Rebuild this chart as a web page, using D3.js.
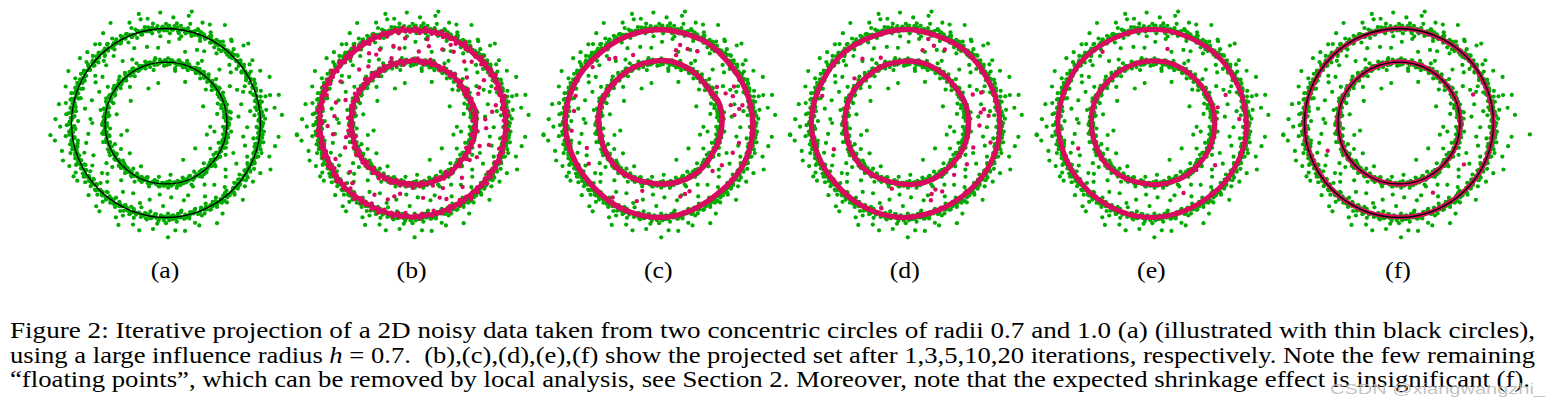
<!DOCTYPE html>
<html><head><meta charset="utf-8">
<script src="https://cdn.jsdelivr.net/npm/d3@7/dist/d3.min.js"></script>
<style>body{margin:0;background:#fff}svg{display:block}</style>
</head><body>
<svg id="chart" width="1562" height="411"></svg>
<script>
// ---------------- DATA ----------------
const panelLabels = ["(a)","(b)","(c)","(d)","(e)","(f)"];
const circleRadii = [0.645, 1.0];               // thin black reference circles (as drawn)
// original noisy green data (same in every panel)
// outer ring: radius = 1 + dev/100, points spread evenly in angle
const outerDev = [
 3,-2,5,0,-6,2,7,-1,-4,1,4,-3,9,0,-2,6,-5,2,-1,3,-8,4,1,-3,
 -2,5,0,-4,8,2,-6,1,3,-1,-9,4,2,-3,6,0,-2,11,-4,1,5,-1,-5,3,
 0,-3,4,7,-2,1,-6,3,-1,5,2,-4,0,8,-3,1,-7,4,-2,6,3,-1,-5,2,
 5,-2,1,-8,3,0,6,-4,2,-1,4,13,-3,0,2,-5,7,-2,1,3,-6,0,4,-1,
 -3,2,6,-1,-5,4,0,-2,9,1,-4,3,-7,2,5,-1,0,-3,6,2,-2,-10,3,1,
 4,-1,-3,7,0,2,-5,3,1,-2,5,-6,0,4,-1,8,-3,2,-4,1,6,-2,0,-7,
 2,5,-1,-4,3,0,7,-2,1,-5,4,2,-3,0,6,-1,-8,3,1,-2,5,0,-4,9,
 -1,3,-5,2,0,6,-3,1,4,-2,-6,3,0,5,-1,2,-4,7,-2,0,3,-5,1,4,
 -2,0,5,-3,8,1,-4,2,-1,6,0,-7,3,1,-2,4,-5,2,0,-3,7,1,-1,3,
 6,-4,0,2,-1,5,-3,1,-6,3,0,4,-2,10,-1,-4,2,5,-3,0,1,-5,3,-1,
 0,4,-2,-5,3,1,6,-1,-3,2,-8,5,0,-1,3,-4,2,7,-2,1,-5,4,0,-3,
 3,-1,5,-4,0,2,-7,1,4,-2,6,0,-3,2,-1,5,-6,3,0,-2,4,1,-4,2];
// second, denser core of the outer band (angles offset by half a step)
const outerDev2 = [
 1,-2,0,3,-1,2,-3,1,0,-1,2,-2,4,0,-3,1,2,-1,0,3,-2,1,-4,0,
 2,-1,0,-3,1,3,-2,0,1,-1,4,-2,0,2,-3,1,0,-1,2,-4,1,3,-1,0,
 -2,1,3,0,-1,2,-3,0,4,-2,1,0,-1,3,-2,1,0,-4,2,1,-1,0,3,-2,
 0,2,-1,-3,1,0,2,-2,3,-1,0,1,-3,2,4,-1,0,-2,1,3,-1,2,0,-3,
 3,-1,1,0,-2,4,-1,2,0,-3,1,2,-1,0,-4,2,1,-2,3,0,-1,1,2,-2,
 -1,0,2,-2,3,1,-3,0,1,2,-1,-4,3,0,1,-2,2,0,-1,4,-3,1,0,2,
 2,-3,0,1,-1,3,0,-2,2,1,-4,0,3,-1,1,2,-2,0,-1,3,1,-3,2,0,
 -2,1,4,-1,0,2,-3,1,0,-2,3,1,-1,0,2,-4,1,3,0,-1,-2,2,1,-3,
 1,0,-2,3,-1,1,4,-3,0,2,-1,0,1,-2,3,-1,2,0,-3,1,4,-2,0,-1,
 0,3,-1,-2,2,0,1,-4,3,-1,2,1,-2,0,-3,2,1,-1,4,0,-2,3,-1,1,
 -3,2,0,1,-1,3,-2,2,0,-4,1,3,-1,0,2,-2,1,-3,0,4,-1,2,0,-2,
 2,0,-3,1,3,-1,0,2,-2,1,-1,4,0,-3,2,1,-2,0,3,-1,1,-2,2,0];
// inner ring: radius = 0.645 + dev/100
const innerDev = [
 2,-1,4,-3,0,5,-2,1,-4,3,0,-6,2,1,-2,4,-1,0,3,-5,1,-2,6,0,
 -3,1,4,-1,-5,2,0,3,-2,7,-1,0,-4,2,5,-3,1,-1,3,-6,0,2,-2,4,
 1,-4,0,3,-1,5,-2,-7,2,0,4,-3,1,-1,6,-2,0,3,-5,2,-1,4,0,-3,
 5,0,-2,1,-4,3,-1,8,0,-3,2,-1,4,-5,1,0,-2,3,6,-1,-4,2,0,1,
 -2,3,0,-5,2,4,-1,-3,1,5,-2,0,-6,3,1,-1,4,-3,0,2,-1,9,-4,1,
 3,-2,0,4,-1,-5,2,1,-3,6,0,-2,3,-1,-4,2,5,0,-3,1,-7,3,-1,2,
 0,4,-3,1,-1,5,-2,3,0,-4,2,-1,6,-3,1,0,-5,2,4,-1,-2,3,0,-6,
 -1,2,5,-3,0,1,-4,3,-2,7,0,-1,4,-5,2,-2,1,3,-3,0,5,-1,-4,2];
const innerDev2 = [
 1,-1,2,0,-2,3,-1,0,1,-3,2,0,-1,2,1,-2,0,3,-1,1,-2,0,2,-1,
 0,2,-2,1,3,-1,0,-3,2,1,-1,0,2,-2,1,0,-1,3,-2,0,1,2,-1,-3,
 2,0,1,-1,-2,3,0,1,-3,2,0,-1,1,2,-2,0,3,-1,1,-2,0,2,-1,0,
 -1,3,0,-2,1,0,2,-1,-3,1,2,0,-2,3,1,-1,0,2,-2,1,-3,0,1,2,
 3,-2,0,1,-1,2,-3,0,1,2,-1,0,-2,1,3,-1,0,-2,2,1,-1,0,3,-3,
 0,1,-2,2,0,-1,3,1,-2,0,2,-1,1,-3,0,2,1,-1,0,-2,3,0,-1,1,
 -2,0,2,1,-1,3,-1,0,2,-2,0,1,-3,2,1,0,-1,2,-2,3,0,-1,1,0,
 1,-2,3,0,-1,1,2,-3,0,1,-1,2,0,-2,3,1,-1,0,2,-1,-2,1,0,2];
// scattered green points: [angle in degrees, radius]
const looseGreen = [
 [104,1.19],[93,1.17],[77,1.21],[78,1.16],[119,1.21],[125,1.16],[59,1.21],[45,1.16],[44,1.21],[29,1.14],
 [24,1.20],[14,1.23],[15,1.14],[4,1.23],[-5,1.39],[-7,1.20],[-12,1.18],[-24,1.21],[-34,1.11],[-89,1.21],
 [-104,1.17],[-115,1.19],[-127,1.17],[-147,1.12],[-150,1.13],[-165,1.14],[-174,1.23],[-171,1.19],[178,1.17],[170,1.15],
 [143,1.14],[138,1.12],[-45,1.15],[-58,1.13],[-72,1.14],[-80,1.16],[-97,1.13],[-118,1.13],[-137,1.12],[-160,1.16],
 [160,1.13],[132,1.12],[110,1.13],[86,1.12],[66,1.14],[52,1.12],[36,1.13],[8,1.16],[-18,1.15],[-28,1.13],
 [-63,1.19],[-85,1.14],[-108,1.13],[-130,1.15],[-156,1.12],[-178,1.12],[152,1.17],[100,1.12],[70,1.13],
 [81,0.90],[67,0.84],[62,0.86],[54,0.91],[25,0.83],[22,0.88],[5,0.77],[-10,0.83],[-16,0.87],[-24,0.78],
 [-38,0.80],[-42,0.85],[-67,0.73],[-73,0.80],[-77,0.84],[-102,0.83],[-108,0.89],[-115,0.82],[-135,0.88],[-139,0.82],
 [-150,0.90],[-156,0.84],[-166,0.87],[177,0.80],[163,0.82],[155,0.78],[144,0.83],[136,0.88],[125,0.80],[113,0.86],
 [104,0.83],[96,0.80],[88,0.86],[75,0.78],[45,0.80],[38,0.87],[14,0.82],[-3,0.86],[-52,0.83],[-58,0.77],
 [-86,0.79],[-92,0.88],[-122,0.86],[-128,0.77],[-146,0.76],[-172,0.83],[170,0.87],[150,0.86],[118,0.76],[30,0.78],
 [-30,0.86],[-95,0.76],[-180,0.78],[60,0.76],[8,0.90],[-62,0.88],[-142,0.86],[128,0.90],
 [117,0.41],[148,0.44],[-169,0.42],[-165,0.49],[-41,0.41],[-16,0.45],[24,0.43],[65,0.48],[101,0.43],[-5,0.47],
 [-65,0.43],[-120,0.53],[-150,0.55],[170,0.53],[40,0.55],[-30,0.54],[-85,0.55],[80,0.56],[-10,0.52],[-140,0.50],
 [135,0.54],[10,0.55]];

// (b) projected set after 1 iteration (red points)
// outer band: radius = 0.985 + dev/100 ; inner band: radius = 0.655 + dev/100
const redBOuterDev = [
 1,-2,0,3,-1,2,-3,0,1,-1,2,3,-2,0,1,-3,2,0,-1,1,3,-2,0,2,
 -1,0,2,-3,1,3,0,-2,1,-1,0,2,-2,1,3,-1,0,-3,2,1,-1,0,2,-2,
 3,0,-1,2,-2,1,0,3,-1,-3,1,2,0,-2,1,-1,3,0,-2,2,1,-1,0,-3,
 2,1,-2,0,3,-1,1,-3,0,2,-1,1,-2,3,0,-1,2,-3,1,0,-2,2,1,-1,
 0,-2,3,1,-1,0,2,-2,1,3,-1,0,-3,2,1,-1,0,2,-2,3,0,-1,1,-2,
 -3,1,0,2,-1,3,-2,0,1,-1,2,0,-2,1,3,-2,0,-1,2,1,-3,0,2,-1,
 1,3,-1,0,-2,2,1,-3,0,1,-1,3,0,-2,2,-1,1,0,-3,2,0,-1,3,1,
 -2,0,1,-1,3,0,-2,2,1,-3,0,1,2,-1,0,3,-2,1,-1,0,2,-3,1,0,
 2,-1,0,3,-2,1,0,-1,2,-3,1,0,-2,3,1,-1,0,2,-2,0,1,-1,3,-2,
 0,2,-3,1,-1,2,0,-2,3,1,-1,0,2,-3,1,0,-1,2,-2,1,0,3,-1,0];
const redBInnerDev = [
 1,-2,0,2,-1,3,-3,0,1,-1,2,0,-2,1,3,-1,0,-3,2,1,
 -1,0,3,-2,1,0,-1,2,-3,1,0,2,-1,4,0,-2,1,-1,3,0,
 2,-1,0,1,-3,2,0,-2,1,3,-1,0,2,-2,1,0,-4,2,1,-1,
 0,3,-1,1,-2,0,2,-1,3,0,-3,1,0,2,-1,1,-2,0,3,-1,
 -2,1,0,3,-1,2,-3,0,1,-1,2,0,-2,3,1,-1,0,2,-2,1,
 1,0,-3,2,0,-1,3,-2,1,0,-1,2,1,-3,0,2,-1,0,1,-2,
 3,-1,0,2,-2,1,0,-1,4,0,-2,1,-1,2,0,-3,1,2,-1,0,
 -1,2,1,-2,0,3,-1,0,2,-3,1,0,-1,2,1,-2,0,3,-1,1];
const redBLoose = [
 [122,0.87],[118,0.82],[114,0.85],[100,0.80],[104,0.84],[78,0.83],[80,0.90],[68,0.84],[64,0.92],[60,0.87],
 [85,0.76],[50,0.85],[46,0.90],[28,0.80],[31,0.88],[24,0.76],[8,0.85],[12,0.90],[3,0.77],[-4,0.78],
 [-19,0.75],[-16,0.84],[-28,0.77],[-33,0.72],[-48,0.78],[-52,0.86],[-65,0.76],[-70,0.84],[-66,0.88],[-82,0.80],
 [-100,0.76],[-104,0.80],[-108,0.85],[-118,0.86],[-135,0.90],[-142,0.84],[-155,0.90],[-172,0.85],[-178,0.90],[175,0.83],
 [161,0.75],[165,0.84],[150,0.88],[135,0.80],[128,0.76],[108,0.72],[95,0.90],[-160,0.76],[-168,0.72],[40,0.75]];

// projected band centre lines, radius read every 10 degrees (0..350)
const ringAngles = [0,10,20,30,40,50,60,70,80,90,100,110,120,130,140,150,160,170,
                    180,190,200,210,220,230,240,250,260,270,280,290,300,310,320,330,340,350];
const redBOuter = [0.985,0.98,0.985,0.99,0.98,0.975,0.985,0.99,0.985,0.98,0.99,0.985,0.98,0.975,0.98,0.99,0.995,0.99,
                   0.985,0.98,0.975,0.98,0.99,0.985,0.98,0.985,0.99,0.995,0.99,0.985,0.98,0.975,0.98,0.985,0.99,0.985];
const redBInner = [0.67,0.68,0.665,0.64,0.65,0.66,0.655,0.66,0.665,0.66,0.655,0.65,0.645,0.64,0.645,0.655,0.66,0.655,
                   0.65,0.645,0.65,0.655,0.66,0.655,0.65,0.645,0.64,0.645,0.655,0.66,0.665,0.66,0.65,0.655,0.665,0.67];
const redCOuter = [0.99,0.985,0.98,0.975,0.97,0.98,0.99,0.985,0.985,0.99,0.985,0.98,0.975,0.97,0.975,0.985,0.99,0.995,
                   0.995,0.99,0.98,0.975,0.97,0.975,0.985,0.99,0.995,1.0,0.995,0.985,0.975,0.97,0.98,0.99,0.995,0.995];
const redCInner = [0.665,0.67,0.665,0.64,0.635,0.645,0.655,0.66,0.665,0.66,0.655,0.65,0.645,0.64,0.64,0.645,0.65,0.645,
                   0.64,0.635,0.64,0.645,0.65,0.655,0.65,0.645,0.64,0.645,0.65,0.655,0.66,0.66,0.655,0.65,0.655,0.66];
const redCLoose = [[75,0.855],[69,0.84],[62,0.86],[77,0.79],[76,0.74],[111,0.77],[124,0.83],[128,0.86],[140,0.92],[162,0.93],
                   [172,0.91],[-175,0.93],[-161,0.81],[24,0.77],[20,0.83],[26,0.88],[14,0.78],[10,0.86],[6,0.80],[12,0.90],
                   [-14,0.87],[-22,0.84],[-34,0.80],[-42,0.76],[-70,0.80],[-66,0.79],[-74,0.81],[-104,0.74],[-106,0.86],[-122,0.93],
                   [32,0.72],[-150,0.86]];
const redDOuter = [0.995,0.99,0.985,0.98,0.985,0.99,0.985,0.98,0.985,0.99,0.985,0.98,0.985,0.99,0.99,0.985,0.99,0.995,
                   1.0,0.995,0.99,0.985,0.98,0.985,0.99,0.995,1.0,1.0,0.99,0.985,0.98,0.98,0.985,0.99,0.995,1.0];
const redDInner = [0.665,0.665,0.66,0.65,0.645,0.65,0.655,0.66,0.66,0.655,0.65,0.65,0.645,0.64,0.645,0.65,0.65,0.645,
                   0.645,0.64,0.645,0.65,0.655,0.655,0.65,0.645,0.645,0.65,0.655,0.66,0.66,0.655,0.655,0.66,0.665,0.665];
const redDLoose = [[75,0.92],[70,0.87],[62,0.88],[77,0.79],[111,0.74],[124,0.82],[139,0.72],[162,0.93],[-160,0.81],[23,0.77],
                   [22,0.86],[8,0.80],[5,0.88],[10,0.84],[-2,0.78],[-20,0.76],[-34,0.78],[-47,0.75],[-70,0.80],[-66,0.77],
                   [-72,0.86],[-62,0.82],[-102,0.71],[-106,0.94],[-13,0.92]];
const redEOuter = [0.995,0.99,0.99,0.985,0.99,0.99,0.985,0.985,0.99,0.99,0.99,0.985,0.985,0.99,0.995,0.99,0.99,0.995,
                   1.0,0.995,0.99,0.99,0.985,0.99,0.99,0.995,1.0,1.0,0.995,0.99,0.985,0.985,0.99,0.99,0.995,1.0];
const redEInner = [0.66,0.66,0.655,0.65,0.65,0.65,0.655,0.66,0.66,0.655,0.655,0.65,0.65,0.645,0.645,0.65,0.65,0.65,
                   0.645,0.645,0.645,0.65,0.655,0.655,0.65,0.65,0.645,0.65,0.655,0.655,0.66,0.655,0.655,0.66,0.66,0.66];
const redELoose = [[125,0.92],[78.5,0.80],[21,0.83],[13.5,0.71],[2.6,0.92],[-161,0.83],[-47,0.68],[-34,0.80],[-66,0.81]];
const redFOuter = [1.0,0.995,0.995,0.995,1.0,1.0,0.995,0.995,1.0,1.0,0.995,0.995,0.995,1.0,1.0,0.995,0.995,1.0,
                   1.0,1.0,0.995,0.995,0.995,1.0,1.0,1.0,0.995,0.995,1.0,1.0,0.995,0.995,1.0,1.0,1.0,1.0];
const redFInner = [0.65,0.65,0.65,0.645,0.645,0.645,0.65,0.65,0.65,0.65,0.645,0.645,0.645,0.645,0.65,0.65,0.65,0.645,
                   0.645,0.645,0.645,0.65,0.65,0.65,0.645,0.645,0.645,0.65,0.65,0.65,0.65,0.645,0.645,0.65,0.65,0.65];
const redFLoose = [[21,0.84],[-158.7,0.81],[-32.5,0.815],[-64,0.82]];

const captionLines = [
  ["Figure 2: Iterative projection of a 2D noisy data taken from two concentric circles of radii 0.7 and 1.0 (a) (illustrated with thin black circles),"],
  ["using a large influence radius ", "h", " = 0.7.  (b),(c),(d),(e),(f) show the projected set after 1,3,5,10,20 iterations, respectively. Note the few remaining"],
  ["\u201Cfloating points\u201D, which can be removed by local analysis, see Section 2. Moreover, note that the expected shrinkage effect is insignificant (f)."]
];
const watermark = "CSDN @xiangwangzhi_";

// ---------------- DRAW ----------------
const GREEN = "#00aa00", RED = "#d80b5e";
const SERIF = "'Liberation Serif'", SANS = "'Liberation Sans'";
const svg = d3.select("#chart");
const R = 94.5, CY = 123;
const panelX = d3.scalePoint().domain(panelLabels).range([166, 1399]);

const toXY = (deg, r) => [r * Math.cos(deg * Math.PI / 180), r * Math.sin(deg * Math.PI / 180)];
const ringPts = (devs, base, half) => devs.map((d, i) => toXY((i + (half ? 0.5 : 0)) * 360 / devs.length, base + d / 100));

const greenPts = ringPts(outerDev, 1.0)
  .concat(ringPts(outerDev2, 1.0, true))
  .concat(ringPts(innerDev, 0.645))
  .concat(ringPts(innerDev2, 0.645, true))
  .concat(looseGreen.map(p => toXY(p[0], p[1])));

const redSets = {
  "(b)": {pts: ringPts(redBOuterDev, 0.985).concat(ringPts(redBInnerDev, 0.655)).concat(redBLoose.map(p => toXY(p[0], p[1]))), rings: [redBOuter, redBInner], w: 4.5},
  "(c)": {pts: redCLoose.map(p => toXY(p[0], p[1])), rings: [redCOuter, redCInner], w: 5.4},
  "(d)": {pts: redDLoose.map(p => toXY(p[0], p[1])), rings: [redDOuter, redDInner], w: 5.2},
  "(e)": {pts: redELoose.map(p => toXY(p[0], p[1])), rings: [redEOuter, redEInner], w: 5.0},
  "(f)": {pts: redFLoose.map(p => toXY(p[0], p[1])), rings: [redFOuter, redFInner], w: 4.6}
};

panelLabels.forEach(lab => {
  const cx = panelX(lab);
  const x = d3.scaleLinear().domain([-1, 1]).range([cx - R, cx + R]);
  const y = d3.scaleLinear().domain([-1, 1]).range([CY + R, CY - R]);
  const g = svg.append("g");
  g.selectAll("circle.g").data(greenPts).join("circle")
    .attr("cx", d => x(d[0])).attr("cy", d => y(d[1])).attr("r", 2.1).attr("fill", GREEN);
  const rs = redSets[lab];
  if (rs) {
    const line = d3.line().x(d => x(d[0])).y(d => y(d[1])).curve(d3.curveCardinalClosed.tension(0.3));
    rs.rings.forEach(radii => {
      g.append("path").datum(ringAngles.map((a, i) => toXY(a, radii[i])))
        .attr("d", line).attr("fill", "none").attr("stroke", RED)
        .attr("stroke-width", rs.w).attr("stroke-linejoin", "round");
    });
    g.selectAll("circle.r").data(rs.pts).join("circle")
      .attr("cx", d => x(d[0])).attr("cy", d => y(d[1])).attr("r", 2.2).attr("fill", RED);
  }
  if (lab === "(a)" || lab === "(f)") {
    circleRadii.forEach(r => {
      g.append("circle").attr("cx", x(0)).attr("cy", y(0)).attr("r", x(r) - x(0))
        .attr("fill", "none").attr("stroke", "#000").attr("stroke-width", 1.3);
    });
  }
  const t = svg.append("text").attr("x", cx - 1).attr("y", 278).attr("text-anchor", "middle")
    .style("font-family", SERIF).attr("font-size", 23).text(lab);
  const w = t.node().getComputedTextLength();
  t.attr("textLength", w * 1.12).attr("lengthAdjust", "spacingAndGlyphs");
});

const capY = [338, 362.5, 387];
captionLines.forEach((ln, i) => {
  const t = svg.append("text").attr("x", 10).attr("y", capY[i])
    .style("font-family", SERIF).attr("font-size", 22.8)
    .style("white-space", "pre").attr("fill", "#000");
  ln.forEach((s, j) => t.append("tspan").attr("font-style", j === 1 ? "italic" : "normal").text(s));
  t.attr("textLength", i === 2 ? 1520 : 1525).attr("lengthAdjust", "spacingAndGlyphs");
});
svg.append("text").attr("x", 1330).attr("y", 394).style("font-family", SANS)
  .attr("font-size", 15).attr("fill", "rgba(185,185,185,0.85)")
  .attr("textLength", 215).attr("lengthAdjust", "spacingAndGlyphs").text(watermark);
</script>
</body></html>
